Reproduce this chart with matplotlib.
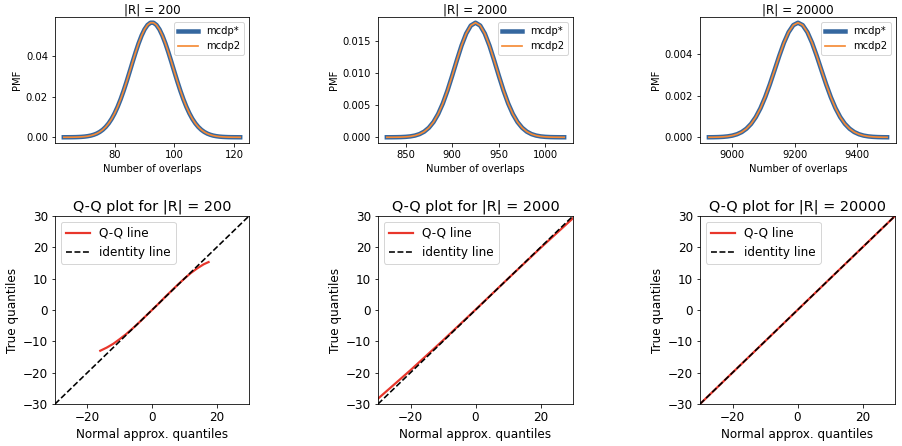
import numpy as np
import matplotlib
matplotlib.use("Agg")
import matplotlib.pyplot as plt

sizes = [200, 2000, 20000]

x_200 = list(range(63, 123))
pmf_200 = [0.00001, 0.00002, 0.00003, 0.00005, 0.00008, 0.00014, 0.00022,
           0.00035, 0.00055, 0.00083, 0.00125, 0.00182, 0.00262, 0.00368,
           0.00508, 0.00686, 0.00908, 0.01179, 0.01500, 0.01870, 0.02285,
           0.02737, 0.03214, 0.03699, 0.04171, 0.04612, 0.04997, 0.05307,
           0.05524, 0.05636, 0.05636, 0.05524, 0.05307, 0.04997, 0.04612,
           0.04171, 0.03699, 0.03214, 0.02737, 0.02285, 0.01870, 0.01500,
           0.01179, 0.00908, 0.00686, 0.00508, 0.00368, 0.00262, 0.00182,
           0.00125, 0.00083, 0.00055, 0.00035, 0.00022, 0.00014, 0.00008,
           0.00005, 0.00003, 0.00002, 0.00001]

x_2000 = list(range(830, 1021, 5))
pmf_2000 = [0.0000022, 0.0000056, 0.0000134, 0.0000305, 0.0000658, 0.000135,
            0.000265, 0.000494, 0.000876, 0.00148, 0.00237, 0.00362, 0.00526,
            0.00727, 0.00956, 0.01195, 0.01423, 0.01611, 0.01736, 0.0178,
            0.01736, 0.01611, 0.01423, 0.01195, 0.00956, 0.00727, 0.00526,
            0.00362, 0.00237, 0.00148, 0.000876, 0.000494, 0.000265, 0.000135,
            0.0000658, 0.0000305, 0.0000134, 0.0000056, 0.0000022]

x_20000 = list(range(8925, 9496, 15))
pmf_20000 = [0.0000024, 0.0000054, 0.0000113, 0.0000229, 0.0000446, 0.0000829,
             0.000148, 0.000252, 0.000413, 0.000647, 0.000971, 0.001398,
             0.001927, 0.002545, 0.003221, 0.003905, 0.004537, 0.005048,
             0.005384, 0.0055, 0.005384, 0.005048, 0.004537, 0.003905,
             0.003221, 0.002545, 0.001927, 0.001398, 0.000971, 0.000647,
             0.000413, 0.000252, 0.000148, 0.0000829, 0.0000446, 0.0000229,
             0.0000113, 0.0000054, 0.0000024]

# Q-Q lines
qq_x_200 = [-16, -14, -12, -10, -8, -6, -4, -2, 0, 2, 4, 6, 8, 10, 12, 14, 16, 17.5]
qq_y_200 = [-13.0, -12.0, -10.8, -9.3, -7.7, -5.9, -4.0, -2.0, 0.0, 2.0, 4.1,
            6.1, 8.1, 10.0, 11.8, 13.3, 14.6, 15.3]
qq_x_2000 = [-30, -20, -10, 0, 10, 20, 30]
qq_y_2000 = [-28.3, -19.2, -9.7, 0.1, 10.0, 19.8, 29.3]
qq_x_20000 = [-30, -20, -10, 0, 10, 20, 30]
qq_y_20000 = [-30.0, -20.0, -10.0, 0.0, 10.0, 20.0, 30.0]
identity = [-30, 30]

pmf_x = [x_200, x_2000, x_20000]
pmf_y = [pmf_200, pmf_2000, pmf_20000]
qq_x = [qq_x_200, qq_x_2000, qq_x_20000]
qq_y = [qq_y_200, qq_y_2000, qq_y_20000]
xticks_top = [[80, 100, 120], [850, 900, 950, 1000], [9000, 9200, 9400]]

W, H = 902, 446
fig = plt.figure(figsize=(W / 72, H / 72), dpi=72)

def box(l, r, t, b):
    return [l / W, (H - b) / H, (r - l) / W, (b - t) / H]

top_boxes = [box(55, 249, 17, 143), box(378, 573, 17, 143), box(700, 896, 17, 143)]
bot_boxes = [box(55, 249, 216, 404), box(378, 573, 216, 404), box(700, 895, 216, 404)]

blue = '#35679f'
orange = '#f58a35'
red = '#e8362b'

for i in range(3):
    ax = fig.add_axes(top_boxes[i])
    ax.plot(pmf_x[i], pmf_y[i], color=blue, lw=4.5, label='mcdp*')
    ax.plot(pmf_x[i], pmf_y[i], color=orange, lw=1.7, label='mcdp2')
    ax.set_xticks(xticks_top[i])
    ax.tick_params(labelsize=10)
    ax.set_xlabel('Number of overlaps', fontsize=10)
    ax.set_ylabel('PMF', fontsize=10)
    ax.set_title(f'|R| = {sizes[i]}', fontsize=12, pad=4)
    ax.legend(loc='upper right', fontsize=10)

    ax = fig.add_axes(bot_boxes[i])
    ax.plot(qq_x[i], qq_y[i], color=red, lw=2.2, label='Q-Q line')
    ax.plot(identity, identity, color='black', ls='--', lw=1.6, label='identity line')
    ax.set_xlim(-30, 30)
    ax.set_ylim(-30, 30)
    ax.set_xticks([-20, 0, 20])
    ax.set_yticks([-30, -20, -10, 0, 10, 20, 30])
    ax.tick_params(labelsize=12)
    ax.set_xlabel('Normal approx. quantiles', fontsize=12)
    ax.set_ylabel('True quantiles', fontsize=12)
    ax.set_title(f'Q-Q plot for |R| = {sizes[i]}', fontsize=14.4, pad=6)
    ax.legend(loc='upper left', fontsize=12)

fig.savefig('out.png', dpi=72)
